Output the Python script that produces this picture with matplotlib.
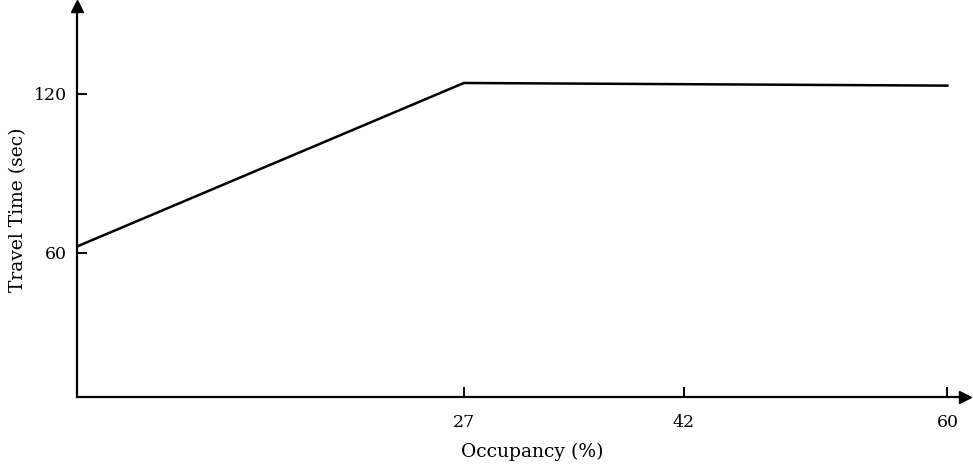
import matplotlib.pyplot as plt

# travel time vs occupancy
occupancy = [0, 27, 60]
travel_time = [61, 124, 123]

x_ticks = [27, 42, 60]
y_ticks = [60, 120]

plt.rcParams['font.family'] = ['DejaVu Serif']

fig = plt.figure(figsize=(9.73, 4.68), dpi=100)
ax = fig.add_axes([77 / 973, 71 / 468, (965 - 77) / 973, (462 - 71) / 468])

ax.plot(occupancy, travel_time, color='black', lw=1.8, solid_joinstyle='miter')

ax.set_xlim(0.6, 61.2)
ax.set_ylim(5.7, 153)

for side in ['top', 'right']:
    ax.spines[side].set_visible(False)
for side in ['left', 'bottom']:
    ax.spines[side].set_linewidth(1.6)

ax.set_xticks(x_ticks)
ax.set_yticks(y_ticks)
ax.tick_params(direction='in', length=7, width=1.4, labelsize=12.5)
ax.tick_params(axis='x', pad=12)
ax.tick_params(axis='y', pad=7)

# arrow heads at axis ends
ax.plot(1, 0, '>', color='black', ms=8, transform=ax.transAxes, clip_on=False)
ax.plot(0, 1, '^', color='black', ms=8, transform=ax.transAxes, clip_on=False)

ax.set_xlabel('Occupancy (%)', fontsize=13.5)
ax.set_ylabel('Travel Time (sec)', fontsize=13.5)
ax.xaxis.set_label_coords(0.513, -0.118)
ax.yaxis.set_label_coords(-0.056, 0.478)

fig.savefig('out.png', dpi=100)
